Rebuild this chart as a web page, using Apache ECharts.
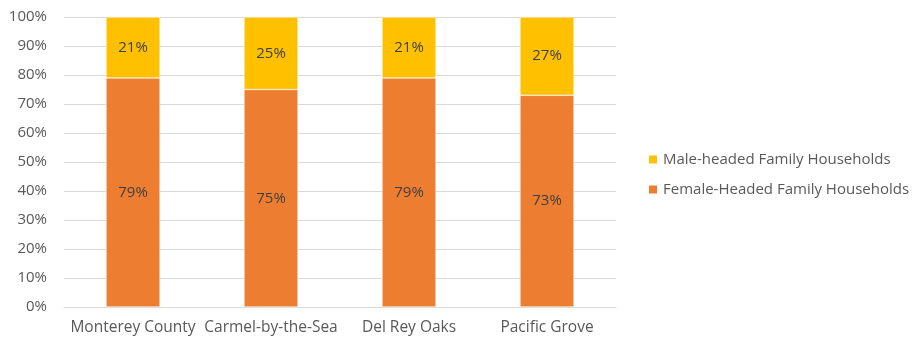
<!DOCTYPE html>
<html>
<head>
<meta charset="utf-8">
<script src="https://cdn.jsdelivr.net/npm/echarts@6/dist/echarts.min.js"></script>
<style>
  html, body { margin: 0; padding: 0; background: #fff; }
  #chart { width: 917px; height: 342px; }
</style>
</head>
<body>
<div id="chart"></div>
<script>
const categories = ['Monterey County', 'Carmel-by-the-Sea', 'Del Rey Oaks', 'Pacific Grove']
const femaleHeaded = [79, 75, 79, 73]
const maleHeaded = [21, 25, 21, 27]
const yTicks = [0, 10, 20, 30, 40, 50, 60, 70, 80, 90, 100]

const textColor = '#595959'
const font = 'Open Sans'

const chart = echarts.init(document.getElementById('chart'))

const barLabel = {
  show: true,
  position: 'inside',
  formatter: p => p.value + '%',
  color: '#404040',
  fontSize: 15,
  fontFamily: font
}

chart.setOption({
  animation: false,
  textStyle: { fontFamily: font },
  grid: { left: 64, right: 301, top: 17, bottom: 35 },
  legend: {
    orient: 'vertical',
    left: 642,
    top: 147,
    itemWidth: 10,
    itemHeight: 10,
    itemGap: 15,
    icon: 'rect',
    textStyle: { color: textColor, fontSize: 15, fontFamily: font },
    data: ['Male-headed Family Households', 'Female-Headed Family Households']
  },
  xAxis: {
    type: 'category',
    data: categories,
    axisLine: { lineStyle: { color: '#d9d9d9' } },
    axisTick: { show: false },
    axisLabel: { color: textColor, fontSize: 15.5, margin: 13, interval: 0, fontFamily: font }
  },
  yAxis: {
    type: 'value',
    min: yTicks[0],
    max: yTicks[yTicks.length - 1],
    interval: 10,
    axisLine: { show: false },
    axisTick: { show: false },
    splitLine: { lineStyle: { color: '#d9d9d9' } },
    axisLabel: { color: textColor, fontSize: 15, margin: 17, formatter: '{value}%', fontFamily: font }
  },
  series: [
    {
      name: 'Female-Headed Family Households',
      type: 'bar',
      stack: 'total',
      barWidth: 54,
      data: femaleHeaded,
      itemStyle: { color: '#ed7d31', borderColor: '#fff', borderWidth: 0.5 },
      label: barLabel
    },
    {
      name: 'Male-headed Family Households',
      type: 'bar',
      stack: 'total',
      barWidth: 54,
      data: maleHeaded,
      itemStyle: { color: '#ffc000', borderColor: '#fff', borderWidth: 0.5 },
      label: barLabel
    }
  ]
})
</script>
</body>
</html>
